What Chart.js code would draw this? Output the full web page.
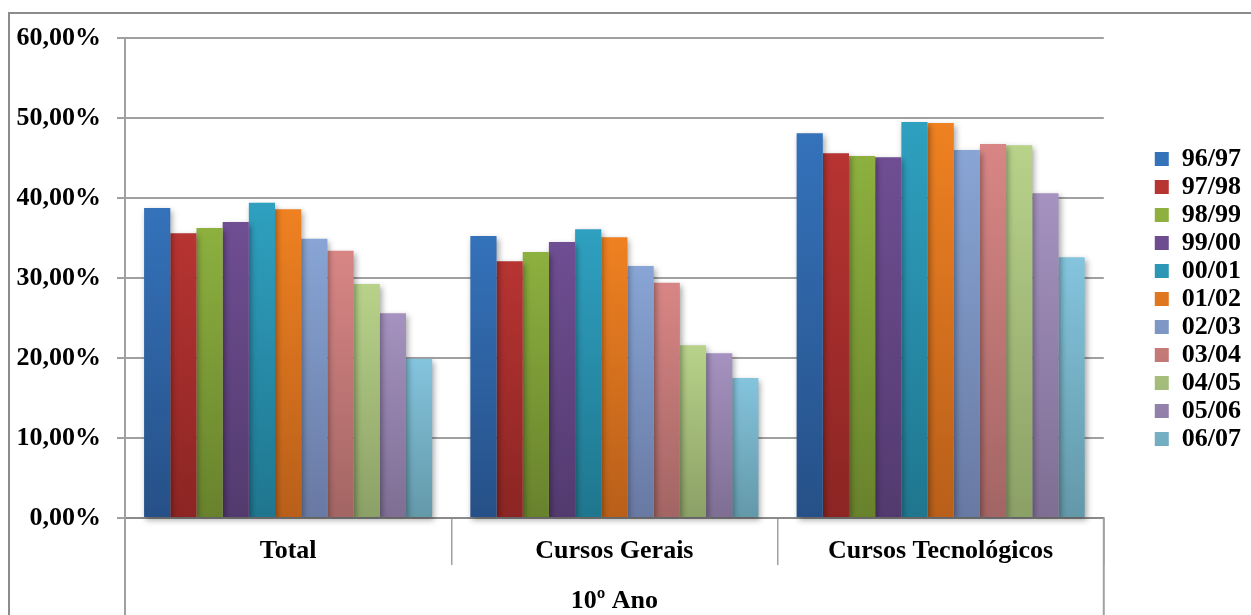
<!DOCTYPE html>
<html>
<head>
<meta charset="utf-8">
<script src="https://cdn.jsdelivr.net/npm/chart.js@4.4.1/dist/chart.umd.min.js"></script>
<style>
  html, body { margin: 0; padding: 0; background: #fff; overflow: hidden; }
  #wrap { position: relative; width: 1251px; height: 615px; overflow: hidden; }
  #frame { position: absolute; left: 8px; top: 12px; width: 1400px; height: 800px; border: 2px solid #8c8c8c; box-sizing: border-box; }
  #c { position: absolute; left: 0; top: 0; }
</style>
</head>
<body>
<div id="wrap">
  <div id="frame"></div>
  <canvas id="c" width="1251" height="615"></canvas>
</div>
<script>
// ---- data ----
const categories = ['Total', 'Cursos Gerais', 'Cursos Tecnológicos'];
const groupLabel = '10º Ano';
const seriesNames = ['96/97', '97/98', '98/99', '99/00', '00/01', '01/02', '02/03', '03/04', '04/05', '05/06', '06/07'];
const s9697 = [38.75, 35.25, 48.1];
const s9798 = [35.6, 32.1, 45.6];
const s9899 = [36.25, 33.25, 45.25];
const s9900 = [37.0, 34.5, 45.1];
const s0001 = [39.4, 36.1, 49.5];
const s0102 = [38.6, 35.1, 49.4];
const s0203 = [34.9, 31.5, 46.0];
const s0304 = [33.4, 29.4, 46.75];
const s0405 = [29.25, 21.6, 46.6];
const s0506 = [25.6, 20.6, 40.6];
const s0607 = [19.9, 17.5, 32.6];
const seriesValues = [s9697, s9798, s9899, s9900, s0001, s0102, s0203, s0304, s0405, s0506, s0607];
const yMin = 0, yMax = 60, yStep = 10;

// ---- styles ----
const topColors = ['#3472BA', '#B73432', '#8DB03F', '#6F4E93', '#2FA0C0', '#EF8121', '#88A5D5', '#D88685', '#B8D28A', '#A592C0', '#84C4DD'];
const botColors = ['#265087', '#8B2523', '#68822C', '#523A6E', '#1F768E', '#B85F1A', '#6879A2', '#A26563', '#8BA066', '#7E6E93', '#6398A9'];
const FONT = "'Liberation Serif', 'Times New Roman', serif";

function gradFill(top, bottom) {
  return (ctx) => {
    const chart = ctx.chart;
    if (!chart.chartArea || ctx.type !== 'data') return top;
    const ys = chart.scales.y;
    const y0 = ys.getPixelForValue(ctx.raw);
    const y1 = ys.getPixelForValue(0);
    if (!isFinite(y0) || !isFinite(y1) || y0 === y1) return top;
    const g = chart.ctx.createLinearGradient(0, y0, 0, y1);
    g.addColorStop(0, top);
    g.addColorStop(1, bottom);
    return g;
  };
}

const datasets = seriesNames.map((name, i) => ({
  label: name,
  data: seriesValues[i],
  backgroundColor: gradFill(topColors[i], botColors[i]),
  borderWidth: 0,
  categoryPercentage: 0.883,
  barPercentage: 1.0,
  clip: false
}));

const shadowPlugin = {
  id: 'barShadow',
  beforeDatasetsDraw(chart) {
    const ctx = chart.ctx;
    ctx.save();
    ctx.shadowColor = 'rgba(0,0,0,0.35)';
    ctx.shadowBlur = 6;
    ctx.shadowOffsetX = 2;
    ctx.shadowOffsetY = 3;
  },
  afterDatasetsDraw(chart) {
    chart.ctx.restore();
  }
};

const outerLines = {
  id: 'outerLines',
  afterDraw(chart) {
    const xs = chart.scales.x;
    const ctx = chart.ctx;
    ctx.save();
    ctx.strokeStyle = '#a0a0a0';
    ctx.lineWidth = 2;
    [xs.left, xs.right].forEach(x => {
      ctx.beginPath();
      ctx.moveTo(x, xs.top);
      ctx.lineTo(x, chart.height);
      ctx.stroke();
    });
    ctx.restore();
  }
};

new Chart(document.getElementById('c'), {
  type: 'bar',
  data: { labels: categories, datasets },
  plugins: [shadowPlugin, outerLines],
  options: {
    responsive: false,
    animation: false,
    devicePixelRatio: 1,
    layout: { padding: { left: 0, right: 0, top: 0, bottom: 17 } },
    plugins: {
      legend: {
        position: 'right',
        labels: {
          color: '#000',
          font: { family: FONT, size: 26, weight: 'bold' },
          boxWidth: 14,
          boxHeight: 14,
          padding: 2
        }
      },
      tooltip: { enabled: false }
    },
    scales: {
      x: {
        grid: { display: true, drawOnChartArea: false, drawTicks: true, tickLength: 47, color: '#a0a0a0', lineWidth: 1.5, offset: true },
        border: { display: true, color: '#8a8a8a', width: 2 },
        ticks: {
          color: '#000',
          font: { family: FONT, size: 26, weight: 'bold' },
          padding: -29.6,
          maxRotation: 0,
          autoSkip: false
        },
        title: {
          display: true,
          text: groupLabel,
          color: '#000',
          font: { family: FONT, size: 26, weight: 'bold' },
          padding: { top: 0, bottom: -18.6 }
        },
        afterFit(s) { s.height = 80; }
      },
      y: {
        min: yMin, max: yMax,
        grid: { color: '#a0a0a0', lineWidth: 2, tickLength: 8, drawTicks: true },
        border: { display: true, color: '#a0a0a0', width: 2 },
        ticks: {
          stepSize: yStep,
          color: '#000',
          padding: 16,
          font: { family: FONT, size: 26, weight: 'bold', lineHeight: 1.7 },
          callback: v => v.toFixed(2).replace('.', ',') + '%'
        },
        afterFit(s) { s.width = 125; }
      },
      yR: {
        type: 'linear',
        position: 'right',
        display: true,
        grid: { display: false },
        border: { display: false },
        ticks: { display: false },
        afterFit(s) { s.width = 49; }
      }
    }
  }
});
</script>
</body>
</html>
